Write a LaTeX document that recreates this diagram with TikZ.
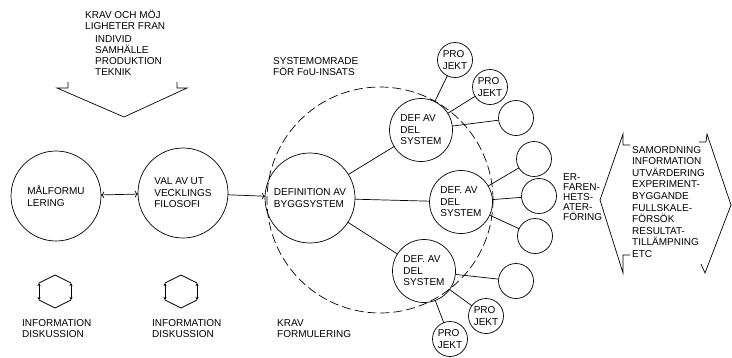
\documentclass[tikz,border=0pt]{standalone}
\usepackage{fontspec}
\setmainfont{Liberation Sans}
\usepackage{tikz}
\usetikzlibrary{arrows.meta}
\usepackage{tkz-graph}

\tikzset{rund/.style={draw, shape=circle, color=black, fill=none, line width=0.7pt,
                      inner sep=0pt, outer sep=0pt, align=left,
                      font=\fontsize{10}{11.5}\selectfont},
         txt/.style={anchor=north west, inner sep=0pt, align=left,
                     font=\fontsize{10}{11.2}\selectfont},
         strich/.style={line width=0.7pt}}

\begin{document}
\begin{tikzpicture}[x=1pt,y=-1pt]
  \useasboundingbox (0,0) rectangle (732,357);
  \SetUpEdge[lw         = 0.7pt,
             color      = black,
             labelcolor = white]
  \GraphInit[vstyle=Normal]
  \SetGraphUnit{3}

  % systemomrade
  \draw[strich, dash pattern=on 9pt off 4pt] (380,200) circle[radius=113pt];

  % huvudkedja
  \tikzset{VertexStyle/.style={rund, minimum size=90pt}}
  \Vertex[x=56,y=196,L={MÅLFORMU\\LERING}]{MAL}
  \Vertex[x=183,y=193,L={VAL AV UT\\VECKLINGS\\FILOSOFI}]{VAL}
  \Vertex[x=310,y=198,L={DEFINITION AV\\BYGGSYSTEM}]{BYGG}

  % delsystem
  \tikzset{VertexStyle/.style={rund, minimum size=63pt}}
  \Vertex[x=421,y=130,L={DEF AV\\DEL\\SYSTEM}]{DS1}
  \Vertex[x=461,y=202,L={DEF. AV\\DEL\\SYSTEM}]{DS2}
  \Vertex[x=424,y=271,L={DEF. AV\\DEL\\SYSTEM}]{DS3}

  % projekt
  \tikzset{VertexStyle/.style={rund, minimum size=35pt}}
  \Vertex[x=455,y=60,L={PRO\\JEKT}]{P1}
  \Vertex[x=490,y=87,L={PRO\\JEKT}]{P2}
  \Vertex[x=516,y=118,NoLabel]{E1}
  \Vertex[x=534,y=159,NoLabel]{E2}
  \Vertex[x=539,y=196,NoLabel]{E3}
  \Vertex[x=535,y=236,NoLabel]{E4}
  \Vertex[x=516,y=281,NoLabel]{E5}
  \Vertex[x=486,y=316,L={PRO\\JEKT}]{P3}
  \Vertex[x=450,y=339,L={PRO\\JEKT}]{P4}

  % pilar
  \tikzset{EdgeStyle/.style={<->}}
    \Edge(MAL)(VAL)
  \tikzset{EdgeStyle/.style={->}}
    \Edge(VAL)(BYGG)
  \tikzset{EdgeStyle/.style={-}}
    \Edge(BYGG)(DS1)
    \Edge(BYGG)(DS2)
    \Edge(BYGG)(DS3)
    \Edge(DS1)(P1)
    \Edge(DS1)(P2)
    \Edge(DS1)(E1)
    \Edge(DS2)(E2)
    \Edge(DS2)(E3)
    \Edge(DS2)(E4)
    \Edge(DS3)(E5)
    \Edge(DS3)(P3)
    \Edge(DS3)(P4)

  % texter
  \node[txt] (krav) at (85,10) {KRAV OCH MÖJ\\LIGHETER FRAN};
  \node[txt] (omv) at (95,35) {INDIVID\\SAMHÄLLE\\PRODUKTION\\TEKNIK};
  \node[txt] (omr) at (273,57) {SYSTEMOMRADE\\FÖR FoU-INSATS};
  \node[txt] (kravf) at (277,319) {KRAV\\FORMULERING};
  \node[txt] (info1) at (22,319) {INFORMATION\\DISKUSSION};
  \node[txt] (info2) at (152,319) {INFORMATION\\DISKUSSION};
  \node[txt, font=\fontsize{10}{10}\selectfont] (erf) at (563,173) {ER-\\FAREN-\\HETS-\\ATER-\\FÖRING};
  \node[txt, font=\fontsize{10}{11.6}\selectfont] (lista) at (632,146)
    {SAMORDNING\\INFORMATION\\UTVÄRDERING\\EXPERIMENT-\\BYGGANDE\\FULLSKALE-\\FÖRSÖK\\RESULTAT-\\TILLÄMPNING\\ETC};

  % klamrar
  \draw[strich] (68,82) -- (68,88) -- (57,88) -- (124,117) -- (187,88) -- (177,88) -- (177,82);
  \draw[strich] (630,145) -- (623,145) -- (623,134) -- (600,200) -- (623,273) -- (623,255) -- (630,255);
  \draw[strich] (699,142) -- (706,142) -- (707,134) -- (731,205) -- (705,273) -- (701,264);

  % info-symboler
  \foreach \cx in {55,181}{
    \draw[strich] (\cx-16,283) -- (\cx,275) -- (\cx+16,283);
    \draw[strich] (\cx-16,300) -- (\cx,308) -- (\cx+16,300);
    \draw[strich, {Stealth[length=3pt,width=3pt]}-{Stealth[length=3pt,width=3pt]}] (\cx-16,283) -- (\cx-16,300);
    \draw[strich, {Stealth[length=3pt,width=3pt]}-{Stealth[length=3pt,width=3pt]}] (\cx+16,283) -- (\cx+16,300);
  }
\end{tikzpicture}
\end{document}
